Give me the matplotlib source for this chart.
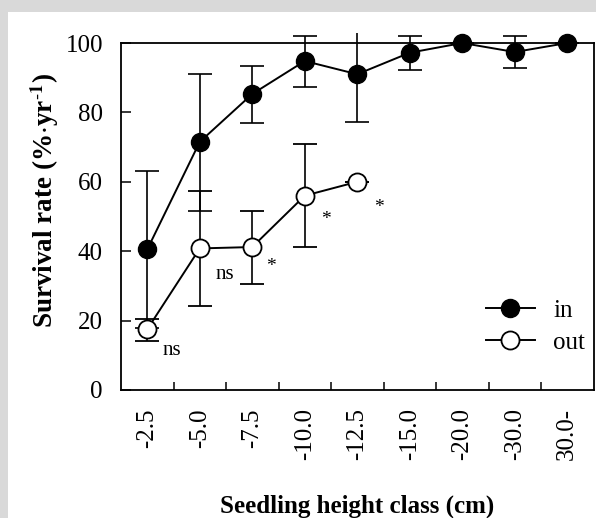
import matplotlib
matplotlib.use("Agg")
import matplotlib.pyplot as plt
from matplotlib.patches import Rectangle
import numpy as np

plt.rcParams['font.family'] = ['Liberation Serif', 'DejaVu Serif']
plt.rcParams['mathtext.fontset'] = 'stix'

categories = ["-2.5", "-5.0", "-7.5", "-10.0", "-12.5", "-15.0", "-20.0", "-30.0", "30.0-"]
in_values = [40.5, 71.5, 85.3, 94.8, 91.0, 97.2, 100.0, 97.4, 100.0]
in_err_low = [22.5, 19.8, 8.4, 7.6, 13.9, 5.1, 0.0, 4.5, 0.0]
in_err_high = [22.6, 19.7, 8.2, 7.3, 11.8, 4.8, 0.0, 4.6, 0.0]
out_values = [17.5, 40.8, 41.2, 56.0, 60.0]
out_err_low = [3.3, 16.5, 10.6, 14.9, 0.0]
out_err_high = [3.1, 16.5, 10.3, 14.9, 0.0]
sig_labels = ["ns", "ns", "*", "*", "*"]
sig_x = [0.46, 1.48, 2.36, 3.40, 4.42]
sig_y = [11.5, 33.3, 35.5, 49.0, 52.5]
yticks = [0, 20, 40, 60, 80, 100]

W, H = 596, 518
fig = plt.figure(figsize=(W / 100, H / 100), dpi=100)
fig.patch.set_facecolor('#d9d9d9')
fig.patches.append(Rectangle((8 / W, 0), 1 - 8 / W, 1 - 12 / H, transform=fig.transFigure,
                             facecolor='white', edgecolor='none', zorder=-5))

ax = fig.add_axes([121 / W, (H - 390) / H, (593.5 - 121) / W, (390 - 43) / H])
ax.set_facecolor('white')

x_in = np.arange(len(in_values))
x_out = np.arange(len(out_values))

eb_in = ax.errorbar(x_in, in_values, yerr=[in_err_low, in_err_high], fmt='-o', color='black',
                    mfc='black', mec='black', ms=13, lw=1.4, elinewidth=1.2, capsize=8.5,
                    capthick=1.2, zorder=3)
# the top of the -12.5 bar has no cap in the original
caps = eb_in[1]
if len(caps) >= 2:
    caps[1].set_markevery([i for i in range(len(in_values)) if i != 4])
for art in list(eb_in[1]) + list(eb_in[2]):
    art.set_clip_on(False)
eb_in[0].set_clip_on(False)

eb_out = ax.errorbar(x_out, out_values, yerr=[out_err_low, out_err_high], fmt='-o', color='black',
                     mfc='white', mec='black', mew=1.3, ms=13, lw=1.4, elinewidth=1.2, capsize=8.5,
                     capthick=1.2, zorder=4)
for art in list(eb_out[1]) + list(eb_out[2]):
    art.set_clip_on(False)
eb_out[0].set_clip_on(False)

for lab, sx, sy in zip(sig_labels, sig_x, sig_y):
    ax.text(sx, sy, lab, ha='center', va='center', fontsize=15 if lab == 'ns' else 14)

ax.set_xlim(-0.5, len(categories) - 0.5)
ax.set_ylim(0, 100)
ax.set_yticks(yticks)
ax.set_yticklabels([str(v) for v in yticks], fontsize=18)
ax.set_xticks(x_in)
ax.set_xticklabels(categories, rotation=90, fontsize=18)
ax.set_xticks(np.arange(len(categories) - 1) + 0.5, minor=True)
ax.tick_params(axis='x', which='major', length=0, pad=13)
ax.tick_params(axis='x', which='minor', direction='in', length=6, width=1.1)
ax.tick_params(axis='y', which='major', direction='in', length=7, width=1.1, pad=13)
for sp in ax.spines.values():
    sp.set_linewidth(1.3)

ax.set_ylabel(r'Survival rate (%$\cdot$yr$^{\mathbf{\text{-}1}}$)', fontsize=19.5, fontweight='bold')
ax.yaxis.set_label_coords(-0.128, 0.545)
ax.set_xlabel('Seedling height class (cm)', fontsize=18, fontweight='bold')
ax.xaxis.set_label_coords(0.5, -0.30)

leg = ax.legend([eb_in[0], eb_out[0]], ['in', 'out'], loc='lower left', bbox_to_anchor=(0.772, 0.105),
                frameon=False, fontsize=18, handlelength=1.95, handletextpad=0.75, labelspacing=0.38,
                borderpad=0, borderaxespad=0)

fig.savefig('out.png', dpi=100, facecolor=fig.get_facecolor())
